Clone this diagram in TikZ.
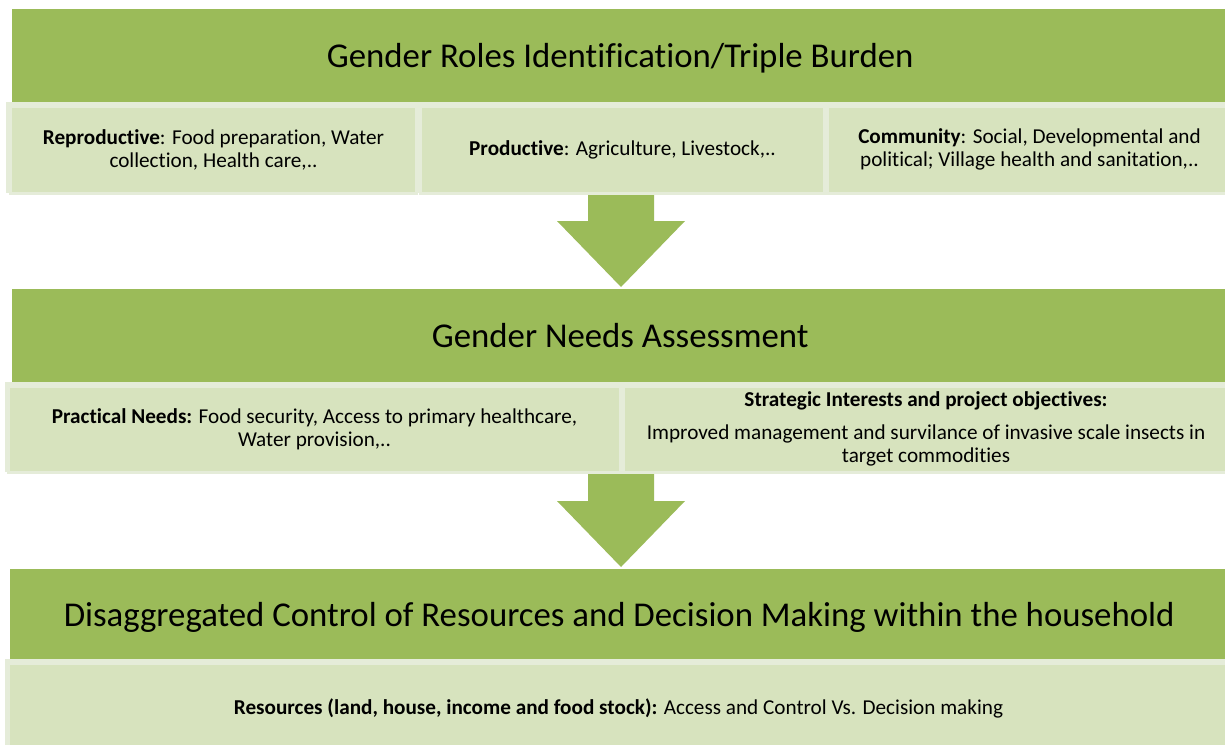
\documentclass[tikz,border=0pt]{standalone}
\usepackage{fontspec}
\setmainfont[Ligatures=CommonOff]{Carlito}
\definecolor{headgreen}{RGB}{155,187,89}
\definecolor{cellgreen}{RGB}{215,227,190}
\definecolor{celledge}{RGB}{229,236,217}

\begin{document}
\begin{tikzpicture}[x=1pt, y=-1pt,
    header/.style={fill=headgreen, anchor=north west, inner sep=0pt, text depth=0pt,
      font=\fontsize{34.8}{40}\selectfont},
    cell/.style={fill=cellgreen, draw=celledge, line width=3pt, anchor=north west,
      inner sep=0pt, align=center, font=\fontsize{21.2}{23}\selectfont}]
  \useasboundingbox (0,0) rectangle (1225,744);

  % block arrows between the stages
  \foreach \t in {190,470} {
    \fill[headgreen] (588,\t) -- (654,\t) -- (654,\t+31) -- (685,\t+31)
      -- (621,\t+97) -- (557,\t+31) -- (588,\t+31) -- cycle;
  }

  % stage 1: roles
  \node[header, minimum width=1216pt, minimum height=93pt] (roles) at (12,9)
    {Gender Roles Identification/Triple Burden};
  \fill[celledge] (6,102) rectangle (1228,193);
  \node[cell, minimum width=406pt, minimum height=87pt] (repro) at (9,104.5)
    {\textbf{Reproductive}: Food preparation, Water\\ collection, Health care,..};
  \node[cell, minimum width=404pt, minimum height=87pt] (prod) at (419,104.5)
    {\textbf{Productive}: Agriculture, Livestock,..};
  \node[cell, minimum width=404pt, minimum height=87pt] (commun) at (826,104.5)
    {\textbf{Community}: Social, Developmental and\\ political; Village health and sanitation,..};

  % stage 2: needs
  \node[header, minimum width=1216pt, minimum height=93pt] (needs) at (12,289)
    {Gender Needs Assessment};
  \fill[celledge] (5,382) rectangle (1228,472);
  \node[cell, minimum width=612pt, minimum height=86pt] (practical) at (7,384.5)
    {\textbf{Practical Needs:} Food security, Access to primary healthcare,\\ Water provision,..};
  \node[cell, minimum width=605pt, minimum height=86pt] (strategic) at (622,384.5)
    {\textbf{Strategic Interests and project objectives:}\\[10pt]
     Improved management and survilance of invasive scale insects in\\ target commodities};

  % stage 3: household
  \node[header, minimum width=1218pt, minimum height=91pt] (house) at (10,569)
    {Disaggregated Control of Resources and Decision Making within the household};
  \fill[celledge] (5,659) rectangle (1228,746);
  \node[cell, minimum width=1220pt, minimum height=90pt] (resources) at (7,661.5)
    {\textbf{Resources (land, house, income and food stock):} Access and Control Vs. Decision making};
\end{tikzpicture}
\end{document}
